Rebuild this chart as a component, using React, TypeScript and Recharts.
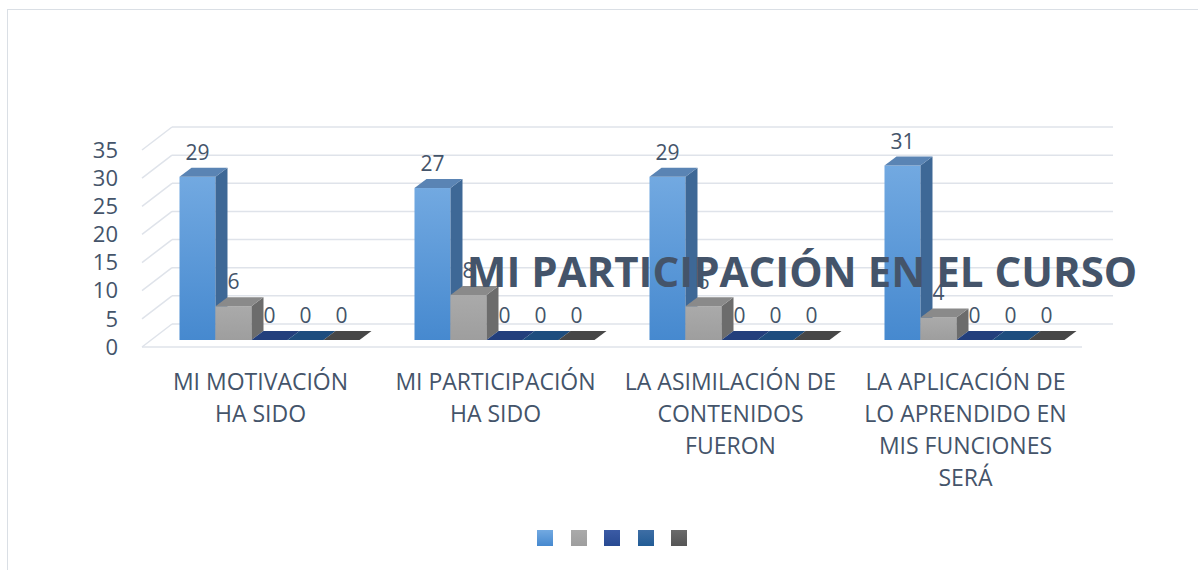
import { BarChart, Bar, XAxis, YAxis, CartesianGrid, Legend, LabelList } from "recharts";

const categories = [
  "MI MOTIVACIÓN HA SIDO",
  "MI PARTICIPACIÓN HA SIDO",
  "LA ASIMILACIÓN DE CONTENIDOS FUERON",
  "LA APLICACIÓN DE LO APRENDIDO EN MIS FUNCIONES SERÁ",
];
// wrapped the way the original shows them
const categoryLines = [
  ["MI MOTIVACIÓN", "HA SIDO"],
  ["MI PARTICIPACIÓN", "HA SIDO"],
  ["LA ASIMILACIÓN DE", "CONTENIDOS", "FUERON"],
  ["LA APLICACIÓN DE", "LO APRENDIDO EN", "MIS FUNCIONES", "SERÁ"],
];
const serie1 = [29, 27, 29, 31];
const serie2 = [6, 8, 6, 4];
const serie3 = [0, 0, 0, 0];
const serie4 = [0, 0, 0, 0];
const serie5 = [0, 0, 0, 0];
const yTicks = [0, 5, 10, 15, 20, 25, 30, 35];
const title = "MI PARTICIPACIÓN EN EL CURSO";

const data = categories.map((c, i) => ({
  cat: c,
  s1: serie1[i],
  s2: serie2[i],
  s3: serie3[i],
  s4: serie4[i],
  s5: serie5[i],
}));

const TEXT = "#44546A";
const FONT = "'Open Sans', 'Noto Sans', sans-serif";
const DX = 12; // bar depth
const DY = 9;

// front gradient (top, bottom), side, top face
const STYLES: Record<string, { a: string; b: string; side: string; top: string }> = {
  s1: { a: "#72A9E1", b: "#4689CF", side: "#3E6896", top: "#5A84B4" },
  s2: { a: "#AAAAAA", b: "#9E9E9E", side: "#6C6C6C", top: "#8A8A8A" },
  s3: { a: "#3B5BA5", b: "#284A92", side: "#1A3366", top: "#233F7C" },
  s4: { a: "#3E6EA5", b: "#225C95", side: "#163F66", top: "#1E4D7E" },
  s5: { a: "#6B6B6B", b: "#555555", side: "#333333", top: "#474747" },
};

const makeShape = (key: string) => (props: any) => {
  const { x, y, width, height } = props;
  const st = STYLES[key];
  const h = Math.max(height, 0);
  return (
    <g>
      {h > 0 && <rect x={x} y={y} width={width} height={h} fill={`url(#grad-${key})`} />}
      {h > 0 && (
        <polygon
          points={`${x + width},${y} ${x + width + DX},${y - DY} ${x + width + DX},${y + h - DY} ${x + width},${y + h}`}
          fill={st.side}
        />
      )}
      <polygon
        points={`${x},${y} ${x + DX},${y - DY} ${x + width + DX},${y - DY} ${x + width},${y}`}
        fill={st.top}
      />
    </g>
  );
};

const valueLabel = (props: any) => {
  const { x, y, width, value } = props;
  return (
    <text
      x={x + width / 2}
      y={y - DY - 8}
      textAnchor="middle"
      fill={TEXT}
      fontSize={21}
      fontFamily={FONT}
    >
      {value}
    </text>
  );
};

// grid drawn as the back wall plus the left side wall and the floor front edge
const gridLine = (p: any) => {
  const { x1, y1, x2 } = p;
  const isBottom = p.height != null && p.y != null ? Math.abs(y1 - (p.y + p.height)) < 1 : p.index === 0;
  const c = "#DFE3EA";
  return (
    <g key={`gl-${p.index}`}>
      <line x1={x1 + 20} y1={y1 - 16} x2={x2 + 21} y2={y1 - 16} stroke={c} strokeWidth={1.5} />
      <line x1={x1 - 10} y1={y1 + 7} x2={x1 + 20} y2={y1 - 16} stroke={c} strokeWidth={1.5} />
      {isBottom && <line x1={x1 - 10} y1={y1 + 7} x2={x2 - 10} y2={y1 + 7} stroke={c} strokeWidth={1.5} />}
    </g>
  );
};

const YTick = (props: any) => {
  const { x, y, payload } = props;
  return (
    <text x={x - 34} y={y + 7} dy="0.35em" textAnchor="end" fill={TEXT} fontSize={22} fontFamily={FONT}>
      {payload.value}
    </text>
  );
};

const XTick = (props: any) => {
  const { x, y, index } = props;
  const lines = categoryLines[index] || [props.payload.value];
  return (
    <g>
      {lines.map((l: string, i: number) => (
        <text
          key={i}
          x={x - 9}
          y={y + 50 + i * 32}
          textAnchor="middle"
          fill={TEXT}
          fontSize={23}
          fontFamily={FONT}
        >
          {l}
        </text>
      ))}
    </g>
  );
};

const LegendSquares = (props: any) => {
  const { payload } = props;
  return (
    <div style={{ display: "flex", marginLeft: 537 }}>
      {(payload || []).map((e: any) => {
        const st = STYLES[e.dataKey];
        return (
          <div
            key={e.dataKey}
            style={{
              width: 16,
              height: 16,
              marginRight: 17.5,
              background: `linear-gradient(${st.a}, ${st.b})`,
            }}
          />
        );
      })}
    </div>
  );
};

const keys = ["s1", "s2", "s3", "s4", "s5"];

export default function App() {
  return (
    <div style={{ position: "absolute", left: 0, top: 0, width: 1198, height: 570, overflow: "hidden", background: "#fff" }}>
      <div
        style={{
          position: "absolute",
          left: 7,
          top: 9,
          width: 1200,
          height: 600,
          borderLeft: "1.5px solid #DADFE5",
          borderTop: "1.5px solid #DADFE5",
        }}
      />
      <div style={{ position: "absolute", left: 0, top: 0 }}>
        <BarChart
          width={1198}
          height={570}
          data={data}
          margin={{ top: 143, right: 106, left: 52, bottom: 80 }}
          barCategoryGap="11.7%"
          barGap={0}
        >
          <defs>
            {keys.map((k) => (
              <linearGradient key={k} id={`grad-${k}`} x1="0" y1="0" x2="0" y2="1">
                <stop offset="0%" stopColor={STYLES[k].a} />
                <stop offset="100%" stopColor={STYLES[k].b} />
              </linearGradient>
            ))}
          </defs>
          <CartesianGrid horizontal={gridLine} vertical={false} />
          <XAxis
            dataKey="cat"
            height={150}
            axisLine={false}
            tickLine={false}
            tickSize={0}
            tickMargin={0}
            interval={0}
            tick={<XTick />}
          />
          <YAxis
            width={100}
            domain={[0, 35]}
            ticks={yTicks}
            axisLine={false}
            tickLine={false}
            tickSize={0}
            tickMargin={0}
            tick={<YTick />}
          />
          <Legend
            layout="horizontal"
            verticalAlign="middle"
            align="center"
            content={<LegendSquares />}
            wrapperStyle={{ top: 530, left: 0, width: 1198, height: 16 }}
          />
          {keys.map((k) => (
            <Bar key={k} dataKey={k} name=" " shape={makeShape(k)} isAnimationActive={false} fill={STYLES[k].a}>
              <LabelList dataKey={k} content={valueLabel} />
            </Bar>
          ))}
        </BarChart>
      </div>
      <svg width={1198} height={570} style={{ position: "absolute", left: 0, top: 0, pointerEvents: "none" }}>
        <text x={802} y={287} textAnchor="middle" fill={TEXT} fontSize={42} fontWeight={700} fontFamily={FONT}>
          {title}
        </text>
      </svg>
    </div>
  );
}
